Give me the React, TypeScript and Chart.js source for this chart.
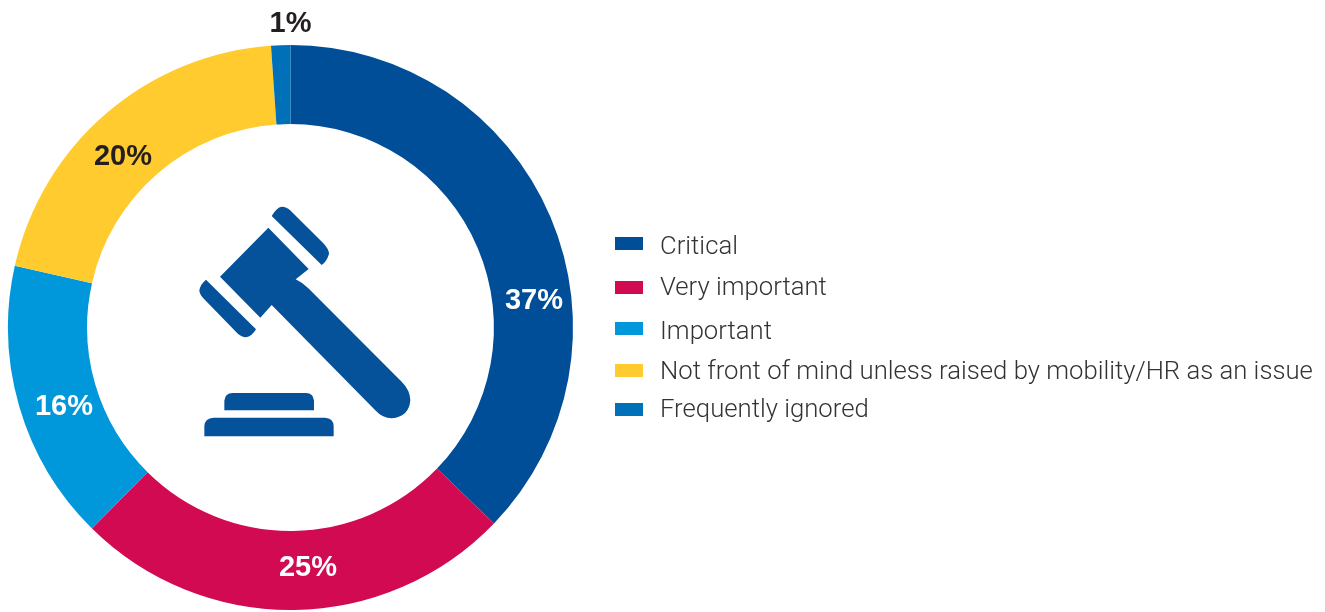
import React, { useEffect, useRef } from "react";
import { Chart, registerables } from "chart.js";

Chart.register(...registerables);

const categories = ["Critical", "Very important", "Important", "Not front of mind unless raised by mobility/HR as an issue", "Frequently ignored"];
const values = [37.2, 25.2, 16.1, 20.4, 1.1];
const colors = ["#004E98", "#D10A52", "#0098DB", "#FFCB2F", "#0070B8"];
const valueLabels = ["37%", "25%", "16%", "20%", "1%"];
const labelColors = ["#FFFFFF", "#FFFFFF", "#FFFFFF", "#231F20", "#231F20"];
const labelDx = [243.5, 17.5, -226.5, -167.5, 0];
const labelDy = [-27, 240, 79, -171, -304];
const swatchY = [243.5, 287.5, 328.5, 370.5, 409.5];
const textBaseY = [254, 295, 339, 379, 417];

const pctPlugin = {
  id: "pctPlugin",
  afterDatasetsDraw(chart: any) {
    const { ctx } = chart;
    const arc = chart.getDatasetMeta(0).data[0];
    ctx.save();
    ctx.font = "bold 29px 'Liberation Sans'";
    ctx.textAlign = "center";
    ctx.textBaseline = "middle";
    valueLabels.forEach((t, i) => {
      ctx.fillStyle = labelColors[i];
      ctx.fillText(t, arc.x + labelDx[i], arc.y + labelDy[i]);
    });
    ctx.restore();
  },
};

const legendPlugin = {
  id: "legendPlugin",
  afterDraw(chart: any) {
    const { ctx } = chart;
    ctx.save();
    ctx.textBaseline = "alphabetic";
    ctx.textAlign = "left";
    ctx.font = "300 25.7px Roboto";
    categories.forEach((t, i) => {
      ctx.fillStyle = colors[i];
      ctx.fillRect(615, swatchY[i] - 6.5, 28, 13);
      ctx.fillStyle = "#333333";
      ctx.fillText(t, 660, textBaseY[i]);
    });
    ctx.restore();
  },
};

export default function App() {
  const ref = useRef<HTMLCanvasElement>(null);
  useEffect(() => {
    const chart = new Chart(ref.current!, {
      type: "doughnut",
      data: {
        labels: categories,
        datasets: [{ data: values, backgroundColor: colors, borderWidth: 0 }],
      },
      options: {
        responsive: false,
        animation: false,
        cutout: "72%",
        layout: { padding: { left: 8, right: 752, top: 45, bottom: 2 } },
        plugins: { legend: { display: false }, tooltip: { enabled: false } },
      },
      plugins: [pctPlugin, legendPlugin],
    } as any);
    return () => chart.destroy();
  }, []);
  return (
    <div style={{ position: "fixed", left: 0, top: 0, width: 1325, height: 612, background: "#fff" }}>
      <canvas ref={ref} width={1325} height={612} style={{ display: "block" }} />
      <svg style={{ position: "absolute", left: 180, top: 190 }} width={250} height={260} viewBox="0 0 750 780" fill="#05529A">
        <path d="M265 113 L386 237 L347 268 Q368 278 385 295 L665 575 Q690 600 691 630 Q688 680 635 685 Q608 685 585 660 L275 345 L241 383 L120 260 Z" />
        <path d="M275 78 Q290 52 305 50 Q320 50 332 62 L430 160 Q447 178 447 192 Q440 215 425 225 Z" />
        <path d="M78 269 L228 418 Q215 440 198 442 Q185 442 172 430 L70 325 Q58 312 58 300 Q62 282 78 269 Z" />
        <path d="M133 661 L133 632 Q135 610 158 609 L378 609 Q400 610 402 632 L402 661 Z" />
        <path d="M73 739 L73 708 Q75 684 100 683 L435 683 Q460 684 461 708 L461 739 Z" />
      </svg>
    </div>
  );
}
